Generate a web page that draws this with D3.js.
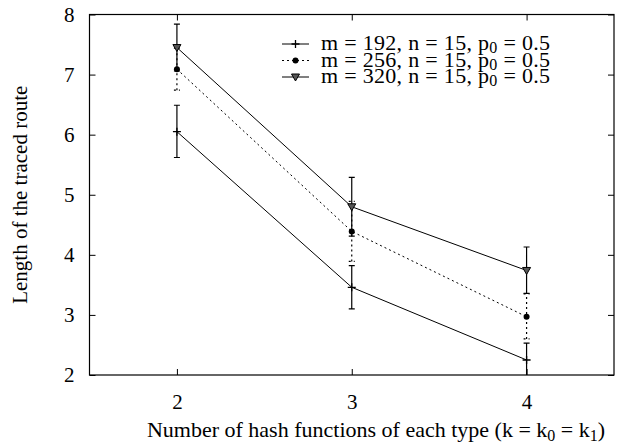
<!DOCTYPE html>
<html>
<head>
<meta charset="utf-8">
<script src="https://d3js.org/d3.v7.min.js"></script>
<style>
  body { margin: 0; background: #fff; }
</style>
</head>
<body>
<svg id="chart" width="620" height="447"></svg>
<script>
// hash function counts (k)
let kValues = [2, 3, 4];

// mean route length per series
let mean192 = [6.05, 3.46, 2.25];
let mean256 = [7.09, 4.39, 2.97];
let mean320 = [7.45, 4.80, 3.74];

// error bar ranges
let lo192 = [5.62, 3.10, 1.97];
let hi192 = [6.49, 3.82, 2.53];
let lo256 = [6.74, 3.89, 2.60];
let hi256 = [7.44, 4.89, 3.35];
let lo320 = [7.06, 4.31, 3.36];
let hi320 = [7.84, 5.29, 4.13];

let seriesLabels = ["m = 192, n = 15, p", "m = 256, n = 15, p", "m = 320, n = 15, p"];
let xTicks = [2, 3, 4];
let yTicks = [2, 3, 4, 5, 6, 7, 8];

let serif = "Liberation Serif";

let margin = { top: 14.5, right: 6, bottom: 72, left: 89.5 };
let svgWidth = 620, svgHeight = 447;
let width = svgWidth - margin.left - margin.right;
let height = svgHeight - margin.top - margin.bottom;

let svg = d3.select("#chart");
let chartGroup = svg.append("g")
  .attr("transform", `translate(${margin.left}, ${margin.top})`);

let xScale = d3.scaleLinear().domain([1.5, 4.5]).range([0, width]);
let yScale = d3.scaleLinear().domain([2, 8]).range([height, 0]);

// clip for anything running below the axis
chartGroup.append("clipPath").attr("id", "plotclip")
  .append("rect").attr("width", width).attr("height", height);

// axes with inward ticks, mirrored on top/right
let tick = 6;
chartGroup.append("g").attr("transform", `translate(0, ${height})`)
  .call(d3.axisBottom(xScale).tickValues(xTicks).tickSize(-tick).tickPadding(tick + 13).tickFormat(d3.format("d")));
chartGroup.append("g")
  .call(d3.axisTop(xScale).tickValues(xTicks).tickSize(-tick).tickFormat(""));
chartGroup.append("g")
  .call(d3.axisLeft(yScale).tickValues(yTicks).tickSize(-tick).tickPadding(tick + 9).tickFormat(d3.format("d")));
chartGroup.append("g").attr("transform", `translate(${width}, 0)`)
  .call(d3.axisRight(yScale).tickValues(yTicks).tickSize(-tick).tickFormat(""));

chartGroup.selectAll(".domain").remove();
chartGroup.selectAll(".tick line").attr("stroke", "#000").attr("stroke-width", 1);
chartGroup.selectAll("g").attr("font-family", serif).attr("font-size", 21);

chartGroup.append("rect")
  .attr("width", width).attr("height", height)
  .attr("fill", "none").attr("stroke", "#000").attr("stroke-width", 1.2);

// series table
let series = [
  { mean: mean192, lo: lo192, hi: hi192, dash: null, marker: "plus" },
  { mean: mean256, lo: lo256, hi: hi256, dash: "2,3", marker: "dot" },
  { mean: mean320, lo: lo320, hi: hi320, dash: null, marker: "tri" }
];

let plot = chartGroup.append("g").attr("clip-path", "url(#plotclip)");
let line = d3.line().x(d => xScale(d[0])).y(d => yScale(d[1]));

function drawMarker(g, type, x, y) {
  if (type === "plus") {
    g.append("path")
      .attr("d", `M${x - 4},${y}H${x + 4}M${x},${y - 4}V${y + 4}`)
      .attr("stroke", "#000").attr("stroke-width", 1.3);
  } else if (type === "dot") {
    g.append("circle").attr("cx", x).attr("cy", y).attr("r", 3).attr("fill", "#000");
  } else {
    g.append("path")
      .attr("d", `M${x - 4},${y - 3}L${x + 4},${y - 3}L${x},${y + 4}Z`)
      .attr("fill", "#555").attr("stroke", "#000").attr("stroke-width", 1);
  }
}

series.forEach(function(s) {
  let pts = kValues.map((k, i) => [k, s.mean[i]]);
  plot.append("path")
    .datum(pts)
    .attr("d", line)
    .attr("fill", "none")
    .attr("stroke", "#000")
    .attr("stroke-width", 1)
    .attr("stroke-dasharray", s.dash);

  kValues.forEach(function(k, i) {
    let x = xScale(k);
    let y0 = yScale(s.lo[i]), y1 = yScale(s.hi[i]);
    plot.append("path")
      .attr("d", `M${x},${y0}V${y1}M${x - 3},${y0}H${x + 3}M${x - 3},${y1}H${x + 3}`)
      .attr("fill", "none")
      .attr("stroke", "#000")
      .attr("stroke-width", 1.2)
      .attr("stroke-dasharray", s.dash);
    drawMarker(plot, s.marker, x, yScale(s.mean[i]));
  });
});

// legend
let legend = svg.append("g");
let legendRows = [44, 60.5, 77];
series.forEach(function(s, i) {
  let y = legendRows[i];
  legend.append("line")
    .attr("x1", 282).attr("x2", 309).attr("y1", y).attr("y2", y)
    .attr("stroke", "#000").attr("stroke-width", 1)
    .attr("stroke-dasharray", s.dash);
  drawMarker(legend, s.marker, 295.5, y);
  let t = legend.append("text")
    .attr("x", 321).attr("y", y + 6)
    .attr("font-family", serif)
    .attr("font-size", 22)
    .attr("letter-spacing", 0.3);
  t.append("tspan").text(seriesLabels[i]);
  t.append("tspan").attr("dy", 3).attr("font-size", 16).text("0");
  t.append("tspan").attr("dy", -3).text(" = 0.5");
});

// axis titles
svg.append("text")
  .attr("transform", `translate(27, ${margin.top + height / 2}) rotate(-90)`)
  .attr("text-anchor", "middle")
  .attr("font-family", serif)
  .attr("font-size", 21)
  .text("Length of the traced route");

let xt = svg.append("text")
  .attr("x", 376)
  .attr("y", 437)
  .attr("text-anchor", "middle")
  .attr("font-family", serif)
  .attr("font-size", 22);
xt.append("tspan").text("Number of hash functions of each type (k = k");
xt.append("tspan").attr("dy", 4).attr("font-size", 16).text("0");
xt.append("tspan").attr("dy", -4).text(" = k");
xt.append("tspan").attr("dy", 4).attr("font-size", 16).text("1");
xt.append("tspan").attr("dy", -4).text(")");
</script>
</body>
</html>
